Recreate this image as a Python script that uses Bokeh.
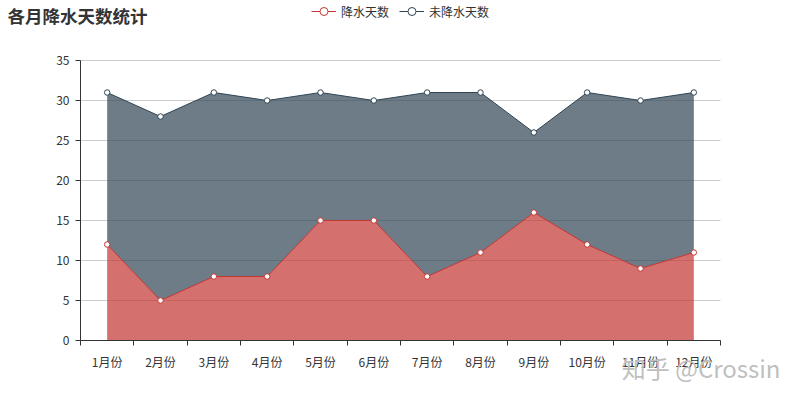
from bokeh.plotting import figure
from bokeh.models import (ColumnDataSource, Range1d, FixedTicker, Legend, LegendItem, Label)
from bokeh.embed import file_html
from bokeh.resources import INLINE

months = ["1月份", "2月份", "3月份", "4月份", "5月份", "6月份",
          "7月份", "8月份", "9月份", "10月份", "11月份", "12月份"]
rain_days = [12, 5, 8, 8, 15, 15, 8, 11, 16, 12, 9, 11]
dry_days = [19, 23, 23, 22, 16, 15, 23, 20, 10, 19, 21, 20]
y_ticks = [0, 5, 10, 15, 20, 25, 30, 35]
series_names = ["降水天数", "未降水天数"]
title_text = "各月降水天数统计"
watermark_text = "知乎 @Crossin"

RED = "#c23531"
DARK = "#2f4554"
FONT = "Noto Sans CJK SC"

# canvas and plot-area geometry (pixels)
W, H = 784, 384
LEFT, RIGHT, TOP, BOTTOM = 80, 64, 60, 44

n = len(months)
y_max = y_ticks[-1]
ppu_x = (W - LEFT - RIGHT) / n
ppu_y = (H - TOP - BOTTOM) / y_max
x_lo, x_hi = -0.5, n - 0.5

xs = list(range(n))
totals = [r + d for r, d in zip(rain_days, dry_days)]
src = ColumnDataSource(dict(x=xs, rain=rain_days, total=totals, zero=[0] * n))

p = figure(width=W, height=H, output_backend="svg", toolbar_location=None,
           x_range=Range1d(x_lo - LEFT / ppu_x, x_hi + RIGHT / ppu_x),
           y_range=Range1d(-BOTTOM / ppu_y, y_max + TOP / ppu_y),
           min_border=0)
p.outline_line_color = None
p.background_fill_color = "white"
p.border_fill_color = "white"

# stacked areas
p.varea(x="x", y1="zero", y2="rain", source=src, fill_color=RED, fill_alpha=0.7)
p.varea(x="x", y1="rain", y2="total", source=src, fill_color=DARK, fill_alpha=0.7)

# lines and markers
l1 = p.line(x="x", y="rain", source=src, line_color=RED, line_width=1)
l2 = p.line(x="x", y="total", source=src, line_color=DARK, line_width=1)
s1 = p.scatter(x="x", y="rain", source=src, size=5.5, fill_color="white", line_color=RED, line_width=1)
s2 = p.scatter(x="x", y="total", source=src, size=5.5, fill_color="white", line_color=DARK, line_width=1)

# x axis at y=0: labels at category centres, ticks at category boundaries
xa = p.xaxis[0]
xa.fixed_location = 0
xa.bounds = (x_lo, x_hi)
xa.ticker = FixedTicker(ticks=xs, minor_ticks=[i - 0.5 for i in range(n + 1)])
xa.major_label_overrides = {i: m for i, m in enumerate(months)}
xa.major_tick_out = 0
xa.major_tick_in = 0
xa.minor_tick_out = 5
xa.minor_tick_in = 0
xa.minor_tick_line_color = "#333333"
xa.axis_line_color = "#333333"
xa.major_label_text_font = FONT
xa.major_label_text_font_size = "12px"
xa.major_label_text_color = "#333333"
xa.major_label_standoff = 7

# y axis at the left edge of the plot area
ya = p.yaxis[0]
ya.fixed_location = x_lo
ya.bounds = (0, y_max)
ya.ticker = FixedTicker(ticks=y_ticks, minor_ticks=[])
ya.major_tick_out = 5
ya.major_tick_in = 0
ya.minor_tick_line_color = None
ya.major_tick_line_color = "#333333"
ya.axis_line_color = "#333333"
ya.major_label_text_font = FONT
ya.major_label_text_font_size = "12px"
ya.major_label_text_color = "#333333"
ya.major_label_standoff = 6

p.xgrid.grid_line_color = None
yg = p.ygrid[0]
yg.ticker = FixedTicker(ticks=y_ticks, minor_ticks=[])
yg.bounds = (0, y_max)
yg.grid_line_color = "#cccccc"
try:
    yg.cross_bounds = (x_lo, x_hi)
except Exception:
    yg.grid_line_color = None
    p.segment(x0=[x_lo] * len(y_ticks), x1=[x_hi] * len(y_ticks), y0=y_ticks, y1=y_ticks,
              line_color="#cccccc", line_width=1, level="underlay")

legend = Legend(items=[LegendItem(label=series_names[0], renderers=[l1, s1]),
                       LegendItem(label=series_names[1], renderers=[l2, s2])],
                orientation="horizontal", location=(311, H - 1 - 20),
                background_fill_alpha=0, border_line_color=None,
                padding=0, margin=0, spacing=10, label_standoff=5,
                glyph_width=25, glyph_height=20,
                label_text_font=FONT, label_text_font_size="12px",
                label_text_color="#333333")
p.add_layout(legend, "center")

p.add_layout(Label(x=7, y=H - 15, x_units="screen", y_units="screen", text=title_text,
                   text_font=FONT, text_font_size="17.5px", text_font_style="bold",
                   text_color="#333333", text_baseline="middle", text_align="left"))

p.add_layout(Label(x=780, y=H - 367, x_units="screen", y_units="screen", text=watermark_text,
                   text_font=FONT, text_font_size="24px", text_color="#bfbfbf",
                   text_baseline="middle", text_align="right"))

open("out.html", "w").write(file_html(p, INLINE))
